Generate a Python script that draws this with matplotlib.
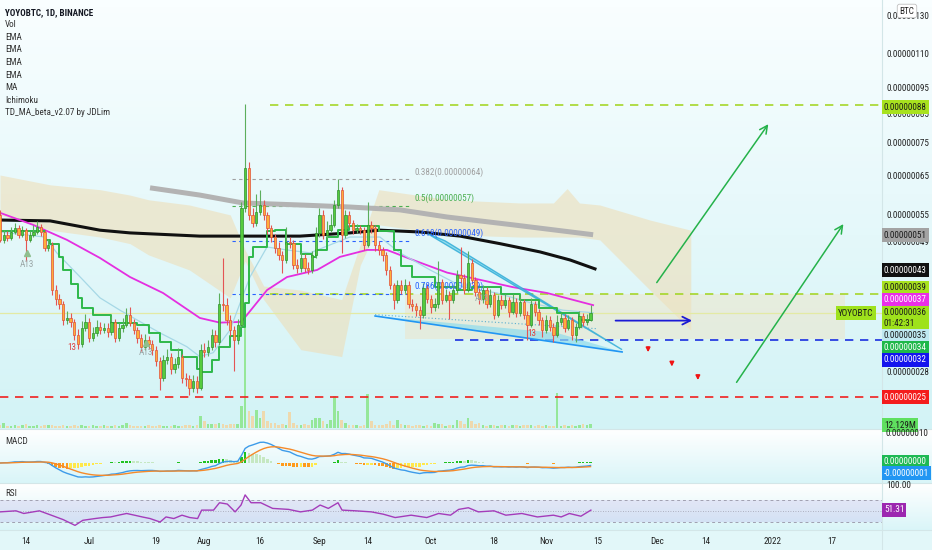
import numpy as np
import pandas as pd
import matplotlib
matplotlib.use("Agg")
import matplotlib.pyplot as plt
from matplotlib import font_manager
from matplotlib.colors import LinearSegmentedColormap
from matplotlib.lines import Line2D
from matplotlib.patches import Polygon
from matplotlib.ticker import FixedLocator, NullLocator, FuncFormatter

W, H = 932, 550
PX_DAY = 3.714

# pick a narrow face if the box has one
names = {f.name for f in font_manager.fontManager.ttflist}
FONT, STRETCH, FS = 'Liberation Sans', 'normal', 5.9
for cand in ['Liberation Sans Narrow', 'Roboto Condensed', 'Open Sans Condensed', 'Noto Sans Condensed',
             'DejaVu Sans Condensed']:
    if cand in names:
        FONT, FS = cand, 6.6
        break
else:
    cond = [f for f in font_manager.fontManager.ttflist
            if f.stretch == 'condensed' and f.weight in (400, 'normal', 'regular')]
    if cond:
        FONT, STRETCH, FS = cond[0].name, 'condensed', 6.6
plt.rcParams['font.family'] = [FONT, 'DejaVu Sans']
plt.rcParams['font.stretch'] = STRETCH

# ---- data (prices in satoshi = 1e-8 BTC), day 0 = 2021-06-07
start = pd.Timestamp('2021-06-07')
first_open = 54.9
closes = [49.3, 50.4, 49.7, 51.0, 51.9, 50.4, 51.4, 49.3, 50.4, 51.0,
          52.1, 51.0, 47.6, 48.3, 39.7, 38.2, 37.4, 34.9, 35.2, 34.6,
          32.7, 31.4, 33.7, 34.6, 32.3, 33.0, 33.9, 33.4, 33.7, 33.1,
          34.6, 32.3, 33.7, 34.2, 35.7, 34.5, 33.4, 32.3, 31.1, 32.0,
          31.4, 30.7, 29.2, 27.2, 29.4, 29.8, 28.2, 28.8, 29.7, 27.2,
          27.0, 26.0, 26.8, 26.0, 30.7, 30.4, 31.0, 32.7, 31.7, 37.4,
          37.2, 34.9, 33.4, 32.0, 34.2, 56.6, 67.2, 54.9, 53.0, 55.6,
          57.3, 54.9, 51.9, 49.9, 47.6, 46.2, 45.2, 48.9, 48.7, 44.2,
          43.7, 45.6, 43.7, 43.3, 46.2, 50.8, 54.9, 50.4, 51.4, 52.6,
          57.3, 61.2, 50.4, 54.9, 53.0, 51.4, 51.9, 51.4, 48.3, 52.6,
          51.9, 48.3, 47.2, 46.2, 43.3, 40.6, 38.1, 40.6, 39.7, 40.6,
          37.4, 37.0, 36.4, 35.7, 40.1, 38.2, 36.9, 37.4, 41.1, 38.1,
          38.9, 38.1, 39.7, 42.4, 41.9, 39.7, 44.6, 41.5, 39.4, 38.2,
          39.7, 37.4, 38.9, 35.7, 38.1, 37.2, 38.1, 36.1, 37.7, 35.9,
          37.7, 35.7, 34.2, 37.4, 36.1, 34.9, 33.4, 34.9, 33.9, 32.7,
          34.6, 35.2, 33.7, 34.9, 32.7, 33.9, 35.5, 34.6, 34.9, 36.0]
highs = [56.0, 51.5, 51.2, 52.2, 53.0, 52.5, 52.3, 51.9, 51.2, 52.5,
         53.4, 52.8, 51.5, 49.5, 48.9, 40.5, 39.0, 37.9, 36.2, 35.9,
         35.0, 33.5, 34.8, 35.8, 35.2, 33.9, 34.9, 34.6, 34.5, 34.4,
         35.5, 35.1, 34.5, 35.2, 36.8, 36.9, 35.0, 33.9, 32.8, 32.9,
         32.6, 32.0, 31.2, 29.8, 30.0, 30.8, 30.2, 29.6, 30.9, 30.1,
         27.8, 27.5, 27.5, 27.4, 31.5, 31.6, 32.0, 33.6, 33.4, 39.2,
         45.5, 38.3, 35.6, 34.0, 35.0, 58.0, 88.5, 69.0, 56.5, 60.0,
         61.0, 58.5, 55.5, 52.5, 50.5, 48.8, 47.0, 52.0, 50.0, 49.3,
         45.3, 46.7, 46.3, 44.8, 47.0, 52.0, 56.5, 56.0, 53.5, 55.0,
         58.5, 64.0, 62.0, 56.0, 55.8, 53.6, 52.8, 52.5, 52.0, 58.0,
         53.5, 52.5, 49.0, 47.8, 46.8, 44.0, 41.0, 41.5, 41.4, 41.6,
         41.2, 38.2, 37.5, 37.0, 41.0, 40.8, 38.8, 38.4, 45.0, 41.6,
         39.8, 39.5, 40.5, 43.3, 47.8, 42.6, 47.0, 45.3, 42.0, 40.0,
         40.5, 40.2, 39.8, 39.3, 38.9, 38.8, 39.0, 38.6, 39.0, 38.3,
         38.5, 38.2, 36.2, 38.3, 37.9, 36.6, 35.4, 35.6, 35.5, 34.4,
         35.6, 36.0, 35.8, 35.6, 35.3, 34.5, 36.2, 36.0, 35.8, 37.2]
lows = [48.8, 48.6, 49.0, 49.2, 50.5, 49.8, 49.9, 45.0, 48.8, 50.0,
        50.6, 50.2, 47.0, 47.0, 38.9, 37.3, 36.6, 34.2, 34.3, 33.9,
        32.0, 30.8, 31.0, 33.3, 31.8, 31.9, 32.5, 32.8, 33.0, 32.4,
        32.7, 31.7, 31.9, 33.2, 33.8, 34.0, 32.8, 31.6, 30.5, 30.7,
        30.8, 30.0, 28.6, 25.8, 26.8, 28.9, 27.7, 27.8, 28.4, 26.6,
        26.3, 25.3, 25.6, 25.5, 25.8, 29.8, 29.9, 30.6, 31.0, 31.3,
        36.2, 34.2, 32.6, 28.0, 31.5, 33.8, 55.5, 53.8, 52.0, 52.4,
        54.8, 53.8, 50.6, 48.8, 46.5, 45.2, 42.8, 44.6, 47.5, 43.5,
        42.8, 43.0, 42.9, 42.5, 42.8, 45.6, 50.0, 49.5, 49.8, 51.0,
        52.0, 56.5, 46.5, 49.8, 52.0, 50.5, 50.8, 50.6, 47.2, 47.8,
        50.8, 47.0, 46.2, 45.0, 42.4, 39.8, 36.6, 37.5, 39.0, 39.2,
        36.8, 36.2, 35.5, 33.5, 35.2, 37.5, 36.0, 36.3, 36.8, 37.4,
        37.7, 35.0, 37.6, 39.2, 41.0, 39.0, 39.3, 40.8, 38.7, 37.4,
        37.6, 36.8, 36.9, 35.0, 35.3, 36.6, 36.8, 35.4, 35.8, 35.3,
        35.5, 35.0, 32.0, 33.8, 35.5, 34.2, 32.4, 33.0, 33.3, 31.8,
        32.4, 34.2, 33.1, 33.4, 32.0, 31.8, 33.5, 34.0, 34.2, 34.7]
volumes = [9, 16, 8, 7, 10, 8, 9, 12, 8, 7,
           9, 8, 11, 9, 10, 8, 7, 9, 8, 7,
           10, 8, 9, 7, 8, 9, 8, 7, 9, 8,
           7, 9, 8, 10, 16, 9, 8, 7, 8, 7,
           9, 8, 7, 10, 8, 7, 8, 9, 7, 8,
           9, 10, 8, 9, 40, 22, 13, 12, 14, 16,
           12, 11, 12, 14, 12, 72, 356, 55, 38, 60,
           33, 57, 22, 16, 16, 11, 12, 10, 53, 16,
           11, 10, 13, 9, 27, 33, 33, 22, 12, 27,
           105, 55, 27, 16, 10, 9, 11, 8, 10, 110,
           22, 10, 11, 9, 12, 22, 10, 27, 12, 11,
           9, 8, 10, 9, 8, 9, 8, 16, 13, 13,
           8, 9, 10, 27, 24, 12, 33, 22, 13, 16,
           9, 8, 10, 9, 8, 11, 9, 8, 10, 9,
           8, 9, 10, 11, 8, 11, 8, 9, 8, 8,
           115, 8, 9, 8, 11, 8, 9, 13, 10, 12.129]

# moving averages (day, price)
gray_days = [40.4, 53.8, 65.4, 80.8, 94.2, 107.7, 120.4, 138.1, 159.7]
gray_vals = [61.7, 59.8, 57.8, 57.3, 56.8, 56.1, 54.4, 52.6, 50.4]
black_days = [0, 13.5, 26.9, 35, 53.8, 65.4, 80.8, 94.2, 102.3, 113.1, 123.9, 134.6, 145.4, 153.5, 160.2]
black_vals = [53.7, 53.5, 51.4, 50.8, 50.1, 50.1, 50.1, 50.8, 51.4, 51.0, 50.1, 48.5, 46.8, 45.2, 43.5]
mag_days = [0, 8.9, 18, 26.9, 35, 43.9, 53.8, 59.2, 64.6, 65.4, 71.9, 77.3, 85.4, 91.5,
            98.8, 104.2, 111.2, 120.4, 129.2, 138.1, 147.3, 159.7]
mag_vals = [55.4, 52.6, 49.3, 45.6, 42.0, 39.2, 35.2, 34.5, 34.6, 34.9, 39.7, 42.0, 43.3, 45.8,
            47.2, 47.2, 45.2, 42.8, 41.5, 40.2, 39.2, 37.2]
blue_days = [0, 12.1, 15.3, 22.3, 26.9, 32.3, 36.9, 43.1, 50.3, 53.8, 57.4, 61.9, 67.3, 71.9,
             77.3, 83.5, 89.7, 94.2, 102.3, 107.7, 115.8, 124.7, 133.8, 142.7, 151.6, 159.7]
blue_vals = [51.0, 49.9, 46.6, 41.5, 38.4, 36.4, 34.9, 33.0, 31.1, 29.8, 30.3, 33.4, 42.0, 47.8,
             47.2, 46.6, 48.5, 49.9, 49.9, 46.6, 43.3, 40.2, 39.2, 37.6, 36.4, 36.0]
td_days = [0, 12, 13.5, 16, 17, 19, 21, 22, 25, 30, 37, 40, 43, 46, 49, 53, 54, 57, 59, 62, 65,
           66, 67, 68, 72, 74, 77, 81, 84, 85, 88, 91, 94, 99, 102, 106, 108, 111, 117, 123,
           127, 132, 135, 140, 145, 150, 156, 159]
td_vals = [51.2, 49.3, 48.5, 45.8, 43.3, 40.8, 38.4, 36.8, 35.7, 34.5, 34.2, 33.0, 31.7, 30.7,
           29.8, 28.2, 27.9, 29.4, 31.1, 32.5, 33.9, 37.6, 45.8, 47.8, 51.2, 51.4, 48.5, 46.4,
           45.8, 47.2, 49.9, 51.4, 52.3, 52.3, 51.2, 47.2, 44.0, 42.0, 40.2, 39.7, 40.2, 40.2,
           39.0, 38.1, 36.8, 35.9, 34.9, 35.4]

# RSI (day, value)
rsi_days = [0, 4.3, 6.4, 10.6, 13.8, 17.0, 20.2, 22.3, 25.6, 27.7, 29.8, 31.9, 34.1, 36.2, 38.3,
            40.4, 43.1, 44.7, 46.8, 49.0, 51.1, 53.2, 54.3, 57.5, 59.1, 61.2, 63.3, 64.9, 66.0,
            67.6, 70.2, 73.4, 77.7, 80.9, 84.1, 86.2, 88.4, 91.0, 92.1, 95.8, 100.0, 103.2, 106.4,
            110.7, 114.9, 118.1, 121.3, 123.5, 126.1, 128.8, 133.0, 136.2, 140.5, 144.7, 149.0,
            151.1, 153.3, 156.4, 159.1]
rsi_vals = [48.4, 50.3, 45.5, 50.3, 42.4, 34.4, 23.9, 33.1, 36.3, 38.1, 39.2, 42.4, 45.5, 42.4, 39.2,
            36.3, 30.0, 39.2, 36.3, 42.4, 38.1, 36.3, 51.6, 51.6, 65.0, 62.6, 48.4, 60.8, 79.2,
            65.0, 65.0, 54.7, 52.9, 48.4, 51.6, 60.8, 54.7, 65.0, 51.6, 50.3, 48.4, 44.2, 38.1,
            42.4, 38.1, 45.5, 42.4, 52.9, 55.9, 48.4, 50.3, 42.4, 45.5, 39.2, 42.4, 39.2, 45.5,
            40.5, 51.6]

# ichimoku cloud (day, span top, span bottom)
cloud_days = [0, 13.5, 27, 35, 40, 51, 62, 66, 71, 81, 92, 97, 102, 121, 140, 149, 152.7, 156,
              161.5, 175, 186]
cloud_top = [65.2, 62.5, 61.2, 59.8, 58.6, 57.3, 54.9, 47.2, 40.4, 39.7, 38.1, 48.3, 61.2, 58.6,
             57.8, 57.8, 61.5, 57.8, 57.3, 53.7, 51.4]
cloud_bot = [54.9, 51.4, 49.9, 48.5, 46.2, 43.3, 38.4, 45.0, 38.1, 30.7, 29.8, 44.2, 52.6, 50.4,
             49.9, 49.9, 49.9, 49.9, 49.3, 39.7, 33.4]

fib_levels = [64, 57, 49, 39]
fib_names = ['0.382(0.00000064)', '0.5(0.00000057)', '0.618(0.00000049)', '0.786(0.00000039)']
fib_colors = ['#a0a0a0', '#4caf50', '#2962ff', '#2962ff']

tick_dates = ['2021-06-14', '2021-07-01', '2021-07-19', '2021-08-01', '2021-08-16', '2021-09-01',
              '2021-09-14', '2021-10-01', '2021-10-18', '2021-11-01', '2021-11-15', '2021-12-01',
              '2021-12-14', '2022-01-01', '2022-01-17']
tick_labels = ['14', 'Jul', '19', 'Aug', '16', 'Sep', '14', 'Oct', '18', 'Nov', '15', 'Dec', '14', '2022', '17']
price_ticks = [130, 110, 95, 85, 75, 65, 55, 49, 28]

# ---- derived
n = len(closes)
days = np.arange(n)
c = np.array(closes)
o = np.r_[first_open, c[:-1]]
up = c >= o
cs = pd.Series(c)
macd = cs.ewm(span=12, adjust=False).mean() - cs.ewm(span=26, adjust=False).mean()
signal = macd.ewm(span=9, adjust=False).mean()
hist = (macd - signal).values

# ---- figure
fig = plt.figure(figsize=(W / 100, H / 100), dpi=100)
fig.patch.set_facecolor('#e2f7f9')


def px_axes(x0, y0, x1, y1):
    a = fig.add_axes([x0 / W, 1 - y1 / H, (x1 - x0) / W, (y1 - y0) / H])
    a.patch.set_alpha(0)
    for s in a.spines.values():
        s.set_visible(False)
    return a


def bg(y0, y1, top, bottom):
    a = px_axes(0, y0, W, y1)
    cmap = LinearSegmentedColormap.from_list('g', [bottom, top])
    a.imshow(np.linspace(0, 1, 64).reshape(-1, 1)[::-1], cmap=cmap, aspect='auto',
             extent=[0, 1, 0, 1], transform=a.transAxes)
    a.set_axis_off()


bg(0, 429, '#f9feff', '#d3f3f6')
bg(429, 483, '#ffffff', '#d9f5f8')
bg(483, 531, '#ffffff', '#d9f5f8')

XMAX = 882 / PX_DAY

# volume
axv = px_axes(0, 0, 882, 428)
axv.bar(days, volumes, width=0.7, color=np.where(up, '#8fe68f', '#f2d7a6'), alpha=0.9, lw=0)
axv.set_xlim(0, XMAX)
axv.set_ylim(0, 1400)
axv.set_xticks([])
axv.set_yticks([])

ax = px_axes(0, 0, 882, 428)
ax.set_yscale('log')
ax.set_xlim(0, XMAX)
ax.set_ylim(21.9, 138.7)
ax.yaxis.tick_right()
ax.yaxis.set_major_locator(FixedLocator(price_ticks))
ax.yaxis.set_minor_locator(NullLocator())
ax.yaxis.set_major_formatter(FuncFormatter(lambda v, _: f'{v * 1e-8:.8f}'))
ax.tick_params(axis='y', length=0, pad=3, labelsize=FS, labelcolor='#222222')
ax.set_xticks([])

# cloud and zone
ax.fill_between(cloud_days, cloud_top, cloud_bot, color='#efdcb2', alpha=0.55, lw=0, zorder=1)
ax.fill_between([109, 227.5], 39, 32.2, color='#f1e3c0', alpha=0.45, lw=0, zorder=1)

# horizontal levels
ax.axhline(36, color='#e3eaa4', lw=0.9, zorder=2)
ax.hlines(88, 72.7, XMAX, colors='#a6d62a', linestyles=(0, (5, 4)), lw=1.2, zorder=2)
ax.hlines(39, 72.7, XMAX, colors='#a6d62a', linestyles=(0, (5, 4)), lw=1.2, zorder=2)
ax.hlines(32, 122.5, XMAX, colors='#1a2ee0', linestyles=(0, (5, 4)), lw=1.2, zorder=2)
ax.hlines(25, 0, XMAX, colors='#f02020', linestyles=(0, (5, 4)), lw=1.2, zorder=2)
for lv, nm, col in zip(fib_levels, fib_names, fib_colors):
    ax.hlines(lv, 62.5, 111, colors=col, linestyles=(0, (3, 3)), lw=0.8, zorder=2)
    ax.text(111.7, lv * 1.012, nm, color=col, fontsize=FS, va='bottom', ha='left', zorder=6)

# moving averages
ax.plot(gray_days, gray_vals, color='#b3b3b3', lw=3.6, solid_capstyle='butt', zorder=3)
ax.plot(black_days, black_vals, color='#111111', lw=2.2, zorder=3)
ax.plot(mag_days, mag_vals, color='#e52ee0', lw=1.3, zorder=3)
ax.plot(blue_days, blue_vals, color='#a6d8e6', lw=0.9, zorder=3)
ax.plot(td_days, td_vals, color='#2eb84a', lw=1.4, drawstyle='steps-post', zorder=4)

# wedges
ax.add_patch(Polygon([(115.2, 50.6), (167.5, 30.7), (119.8, 49.1)], closed=True,
                     fc='#7fd6ea', ec='#29a9d6', lw=1.0, alpha=0.8, zorder=3))
ax.add_patch(Polygon([(101, 35.5), (167.5, 30.4), (150, 33.0)], closed=True,
                     fc='#8fdcec', ec='none', alpha=0.7, zorder=3))
ax.plot([101, 167.5], [35.5, 30.4], color='#2196f3', lw=1.2, zorder=3)
ax.plot([101, 161], [35.7, 33.6], color='#5aaed0', lw=0.8, ls=(0, (1, 2)), zorder=3)

# candles
h = np.array(highs)
lo = np.array(lows)
ax.vlines(days, lo, h, colors=np.where(up, '#5cae5c', '#e45454'), lw=0.8, zorder=5)
body_lo = np.minimum(o, c)
body_hi = np.maximum(o, c)
ax.bar(days, body_hi - body_lo, bottom=body_lo, width=0.62,
       color=np.where(up, '#55cc3d', '#ffae3a'), edgecolor=np.where(up, '#2f8f2f', '#e0503a'),
       lw=0.5, zorder=6)

# markers
for dd, pp in [(7.3, 45.2), (39.3, 30.9), (129.8, 39.0)]:
    ax.text(dd, pp, 'A13', color='#9aa6a6', fontsize=FS, ha='center', va='top', zorder=6)
for dd, pp in [(7.3, 46.6), (39.3, 31.6)]:
    ax.plot(dd, pp, marker='^', color='#8fbf8f', ms=4, zorder=6)
for dd, pp in [(19.4, 31.6), (143.2, 33.5)]:
    ax.text(dd, pp, '13', color='#e04040', fontsize=FS, ha='center', va='top', zorder=6)

# arrows
for (x0, y0), (x1, y1) in [((176.4, 40.6), (207.3, 82.0)), ((197.9, 26.4), (227.5, 53.3))]:
    ax.annotate('', xy=(x1, y1), xytext=(x0, y0),
                arrowprops=dict(arrowstyle='->', color='#25b24a', lw=1.1, mutation_scale=14), zorder=7)
ax.annotate('', xy=(187.1, 34.8), xytext=(165, 34.8),
            arrowprops=dict(arrowstyle='->', color='#1a1ad6', lw=1.3, mutation_scale=14), zorder=7)
for dd, p0, p1 in [(174.5, 31.4, 30.0), (180.9, 29.4, 28.2), (187.9, 27.8, 26.6)]:
    ax.annotate('', xy=(dd, p1), xytext=(dd, p0),
                arrowprops=dict(arrowstyle='-|>', color='#f01414', lw=1.2, mutation_scale=6), zorder=7)

# MACD pane
axm = px_axes(0, 430, 882, 482)
dh = np.diff(np.r_[0, hist])
hcol = np.where(hist >= 0, np.where(dh >= 0, '#1fc21f', '#c6e8c2'), np.where(dh < 0, '#ff9a1a', '#ffe84a'))
axm.bar(days, hist, width=0.7, color=hcol, lw=0)
axm.plot(days, macd.values, color='#3d9be9', lw=1.0)
axm.plot(days, signal.values, color='#f58a2a', lw=1.0)
axm.set_xlim(0, XMAX)
axm.set_ylim(-6.1, 10.6)
axm.set_xticks([])
axm.set_yticks([])

# RSI pane
axr = px_axes(0, 484, 882, 530)
axr.fill_between([0, XMAX], 30, 70, color='#8e6fd8', alpha=0.15, lw=0)
axr.axhline(70, color='#a0a0b0', lw=0.7, ls=(0, (3, 3)))
axr.axhline(30, color='#a0a0b0', lw=0.7, ls=(0, (3, 3)))
axr.axhline(50, color='#a0a0b0', lw=0.6, ls=(0, (1, 2)))
axr.plot(rsi_days, rsi_vals, color='#a43cba', lw=1.0)
axr.set_xlim(0, XMAX)
axr.set_ylim(15.5, 99)
axr.set_yticks([])
tick_days = [(pd.Timestamp(t) - start).days for t in tick_dates]
axr.set_xticks(tick_days)
axr.set_xticklabels(tick_labels)
axr.tick_params(axis='x', length=0, pad=5, labelsize=FS, labelcolor='#222222')

# separators
for y in (429, 483, 530):
    fig.add_artist(Line2D([0, 1], [1 - y / H] * 2, color='#d3e6e8', lw=0.8))
fig.add_artist(Line2D([882 / W] * 2, [0, 1], color='#d3e6e8', lw=0.8))

# legend text
fig.text(5 / W, 1 - 12.3 / H, 'YOYOBTC, 1D, BINANCE', fontsize=FS, fontweight='bold', color='#131722', va='center')
for k, t in enumerate(['Vol', 'EMA', 'EMA', 'EMA', 'EMA', 'MA', 'Ichimoku', 'TD_MA_beta_v2.07 by JDLim']):
    fig.text(5 / W, 1 - (24.8 + 12.55 * k) / H, t, fontsize=FS, color='#333333', va='center')
fig.text(5 / W, 1 - 442 / H, 'MACD', fontsize=FS, color='#333333', va='center')
fig.text(5 / W, 1 - 494 / H, 'RSI', fontsize=FS, color='#333333', va='center')


def rlabel(y, text, fc, tc='white', x=884):
    fig.text(x / W, 1 - y / H, text, fontsize=FS, color=tc, va='center', ha='left',
             bbox=dict(boxstyle='square,pad=0.22', fc=fc, ec='none'))


rlabel(107, '0.00000088', '#a8e21e', '#1a1a1a')
rlabel(235, '0.00000051', '#a3a3a3', '#1a1a1a')
rlabel(270, '0.00000043', '#111111', 'white')
rlabel(288, '0.00000039', '#a8e21e', '#1a1a1a')
rlabel(300, '0.00000037', '#ea2ee8', 'white')
rlabel(318, '0.00000036\n01:42:31', '#9ee21c', '#1a1a1a')
rlabel(336, '0.00000035', '#bfe9f0', '#1a1a1a')
rlabel(348, '0.00000034', '#1fb84a', 'white')
rlabel(360, '0.00000032', '#1414ee', 'white')
rlabel(397, '0.00000025', '#f41c1c', 'white')
rlabel(425, '12.129M', '#5fe05f', '#1a1a1a')
fig.text(886 / W, 1 - 433 / H, '0.00000010', fontsize=FS, color='#222222', va='center')
rlabel(462, '0.00000000', '#1db954', 'white')
rlabel(473, '-0.00000001', '#2196f3', 'white')
fig.text(886 / W, 1 - 485 / H, '100.00', fontsize=FS, color='#222222', va='center')
rlabel(510, '51.31', '#9c27b0', 'white')
fig.text(856 / W, 1 - 313 / H, 'YOYOBTC', fontsize=FS, color='#1a1a1a', va='center', ha='center',
         bbox=dict(boxstyle='square,pad=0.25', fc='#9ee21c', ec='none'))
fig.text(907 / W, 1 - 11 / H, 'BTC', fontsize=FS, color='#222222', va='center', ha='center',
         bbox=dict(boxstyle='round,pad=0.25', fc='white', ec='#c0c0c0', lw=0.6))

fig.savefig('out.png', dpi=100, facecolor=fig.get_facecolor())
